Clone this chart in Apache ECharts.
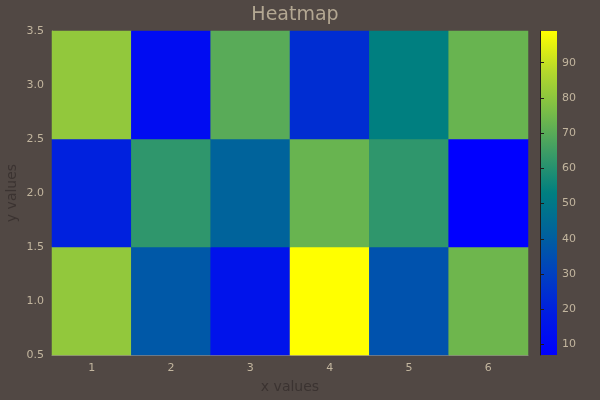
<!DOCTYPE html>
<html>
<head>
<meta charset="utf-8">
<script src="https://cdn.jsdelivr.net/npm/echarts@6/dist/echarts.min.js"></script>
<style>
  html, body { margin: 0; padding: 0; background: #514844; }
  #chart { width: 600px; height: 400px; }
</style>
</head>
<body>
<div id="chart"></div>
<script>
// data
const xLabels = ['1', '2', '3', '4', '5', '6'];
const yLabels = ['1', '2', '3'];
// one row per y value, bottom to top
const row1 = [81, 38, 15, 99, 36, 74];
const row2 = [20, 62, 42, 73, 62, 7];
const row3 = [81, 12, 70, 24, 53, 73];
const colorbarTicks = [10, 20, 30, 40, 50, 60, 70, 80, 90];
const zMin = 7;
const zMax = 99;

const rows = [row1, row2, row3];
const cells = [];
rows.forEach((row, yi) => {
  row.forEach((v, xi) => cells.push([xi, yi, v]));
});

const tickColor = '#c2b59e';
const bg = '#514844';
const font = 'DejaVu Sans';
const palette = ['#0000ff', '#001ce2', '#0040c0', '#00629c', '#007f80', '#3c9c66', '#78bc48', '#b4d82c', '#ffff00'];

// colour bar fill, bottom (min) to top (max)
const barStops = palette.map((c, i) => ({ offset: i / (palette.length - 1), color: c }));

const chart = echarts.init(document.getElementById('chart'));
const option = {
  backgroundColor: bg,
  animation: false,
  textStyle: { fontFamily: font },
  title: {
    text: 'Heatmap',
    left: 290,
    textAlign: 'center',
    top: 1,
    textStyle: { color: '#b3a792', fontSize: 19, fontWeight: 'normal', fontFamily: font }
  },
  grid: [
    { left: 52, right: 72, top: 31, bottom: 45, outerBoundsMode: 'none', containLabel: false },
    {
      left: 540, width: 17, top: 31, bottom: 45, outerBoundsMode: 'none', containLabel: false,
      show: true, borderWidth: 0,
      backgroundColor: new echarts.graphic.LinearGradient(0, 1, 0, 0, barStops)
    }
  ],
  xAxis: [
    {
      type: 'category',
      gridIndex: 0,
      data: xLabels,
      axisLine: { lineStyle: { color: '#8c8480', width: 1 } },
      axisTick: { alignWithLabel: true, inside: true, length: 3, lineStyle: { color: '#8c8480' } },
      axisLabel: { color: tickColor, fontSize: 11, margin: 8 },
      name: 'x values',
      nameLocation: 'middle',
      nameGap: 25,
      nameMoveOverlap: false,
      nameTextStyle: { color: '#3b3331', fontSize: 14 }
    },
    { type: 'value', gridIndex: 1, show: false, min: 0, max: 1 }
  ],
  yAxis: [
    {
      type: 'category',
      gridIndex: 0,
      data: yLabels,
      show: false
    },
    {
      type: 'value',
      gridIndex: 0,
      position: 'left',
      min: 0.5,
      max: 3.5,
      interval: 0.5,
      splitLine: { show: false },
      axisLine: { show: true, lineStyle: { color: '#8c8480' } },
      axisTick: { show: true, inside: true, length: 3, lineStyle: { color: '#8c8480' } },
      axisLabel: { color: tickColor, fontSize: 11, margin: 8, formatter: v => v.toFixed(1) },
      name: 'y values',
      nameLocation: 'middle',
      nameGap: 33,
      nameMoveOverlap: false,
      nameTextStyle: { color: '#3b3331', fontSize: 14 }
    },
    {
      type: 'value',
      gridIndex: 1,
      position: 'right',
      min: zMin,
      max: zMax,
      splitLine: { show: false },
      axisLine: { show: true, lineStyle: { color: '#1e1a19', width: 1 } },
      axisTick: { show: true, length: 4, customValues: colorbarTicks, lineStyle: { color: '#1e1a19' } },
      axisLabel: { color: tickColor, fontSize: 11, margin: 5, customValues: colorbarTicks }
    }
  ],
  visualMap: {
    type: 'continuous',
    show: false,
    min: zMin,
    max: zMax,
    seriesIndex: 0,
    inRange: { color: palette }
  },
  series: [
    {
      type: 'heatmap',
      xAxisIndex: 0,
      yAxisIndex: 0,
      data: cells,
      itemStyle: { borderWidth: 0 }
    }
  ]
};
chart.setOption(option);
</script>
</body>
</html>
